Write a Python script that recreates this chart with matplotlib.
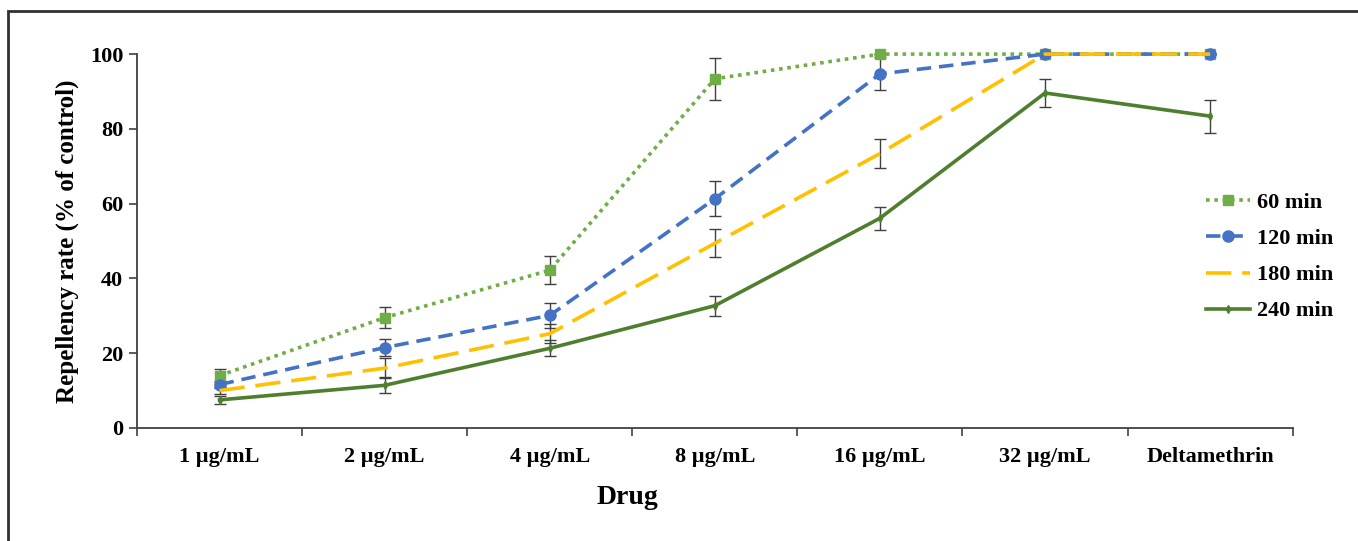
import matplotlib.pyplot as plt
from matplotlib.patches import Rectangle
import numpy as np

plt.rcParams['font.family'] = ['Liberation Serif', 'DejaVu Serif']
plt.rcParams['font.weight'] = 'bold'

drugs = ['1 µg/mL', '2 µg/mL', '4 µg/mL', '8 µg/mL', '16 µg/mL', '32 µg/mL', 'Deltamethrin']
series_names = ['60 min', '120 min', '180 min', '240 min']

rate_60 = [14.0, 29.5, 42.2, 93.4, 100.0, 100.0, 100.0]
rate_120 = [11.6, 21.5, 30.1, 61.3, 94.7, 100.0, 100.0]
rate_180 = [10.0, 16.0, 25.2, 49.4, 73.4, 100.0, 100.0]
rate_240 = [7.5, 11.4, 21.3, 32.7, 56.1, 89.6, 83.4]

err_60 = [1.7, 2.9, 3.7, 5.6, 0.0, 0.0, 0.0]
err_120 = [1.0, 2.3, 3.3, 4.7, 4.4, 0.0, 0.0]
err_180 = [1.0, 2.7, 2.6, 3.7, 3.9, 0.0, 0.0]
err_240 = [1.1, 2.1, 2.1, 2.7, 3.1, 3.7, 4.4]

fig = plt.figure(figsize=(13.58, 5.41), dpi=100)
ax = fig.add_axes([0.1009, 0.209, 0.851, 0.691])

x = np.arange(len(drugs))
styles = [
    dict(color='#70AD47', ls=(0, (1, 1.3)), marker='s', ms=7, lw=2.6),
    dict(color='#4472C4', ls=(0, (4, 2.2)), marker='o', ms=8, lw=2.6),
    dict(color='#FFC000', ls=(0, (7, 3)), marker=None, ms=0, lw=2.6),
    dict(color='#4F7F2E', ls='-', marker='d', ms=4, lw=2.6),
]
rates = [rate_60, rate_120, rate_180, rate_240]
errs = [err_60, err_120, err_180, err_240]

for name, r, e, st in zip(series_names, rates, errs, styles):
    ax.errorbar(x, r, yerr=e, fmt='none', ecolor='#404040', elinewidth=1,
                capsize=4, capthick=1, zorder=2, clip_on=False)
    ax.plot(x, r, label=name, zorder=3, clip_on=False, **st)

ax.set_xlim(-0.5, len(drugs) - 0.5)
ax.set_ylim(0, 100)
ax.set_yticks([0, 20, 40, 60, 80, 100])
ax.set_xticks(x)
ax.set_xticklabels(drugs)
ax.set_xticks(np.arange(-0.5, len(drugs), 1.0), minor=True)
ax.tick_params(axis='x', which='major', length=0, pad=14, labelsize=16)
ax.tick_params(axis='x', which='minor', length=6, width=1.2, color='#404040')
ax.tick_params(axis='y', length=6, width=1.2, color='#404040', labelsize=16, pad=4)
for lab in ax.get_xticklabels() + ax.get_yticklabels():
    lab.set_fontweight('bold')

for s in ['top', 'right']:
    ax.spines[s].set_visible(False)
for s in ['left', 'bottom']:
    ax.spines[s].set_color('#404040')
    ax.spines[s].set_linewidth(1.3)

ax.set_ylabel('Repellency rate (% of control)', fontsize=18, fontweight='bold', labelpad=8)
fig.text(627 / 1358, 1 - 497 / 541, 'Drug', fontsize=20, fontweight='bold',
         ha='center', va='center')

leg = ax.legend(loc='center left', bbox_to_anchor=(1186 / 1358, 1 - 257 / 541),
                bbox_transform=fig.transFigure, frameon=False, fontsize=16,
                handlelength=2.0, labelspacing=0.7, handletextpad=0.3)
for t in leg.get_texts():
    t.set_fontweight('bold')

# outer frame of the figure
fig.patches.append(Rectangle((8 / 1358, -0.05), 1.2, 1 - 11 / 541 + 0.05,
                             transform=fig.transFigure, fill=False,
                             edgecolor='#303030', lw=2))

fig.savefig('out.png', dpi=100)
